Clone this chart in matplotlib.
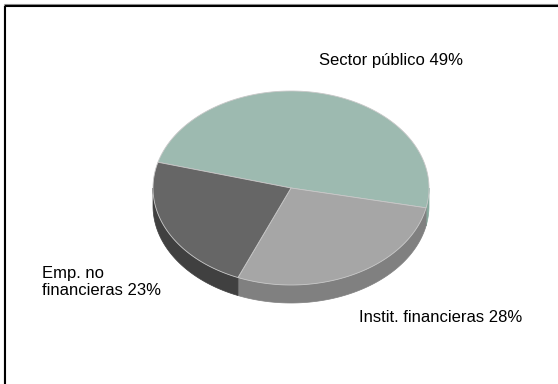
import numpy as np
import matplotlib.pyplot as plt
from matplotlib.patches import Polygon

# participación por sector
sectores = ['Sector público', 'Instit. financieras', 'Emp. no\nfinancieras']
valores = [49, 28, 23]
col_sup = ['#9dbab0', '#a6a6a6', '#666666']
col_lat = ['#86a89c', '#808080', '#404040']

plt.rcParams['font.family'] = ['Liberation Sans', 'DejaVu Sans']

fig = plt.figure(figsize=(5.58, 3.84), dpi=100)
ax = fig.add_axes([0, 0, 1, 1])
ax.set_xlim(0, 558)
ax.set_ylim(384, 0)
ax.axis('off')

# geometría del pastel en pixeles
cx, cy, rx, ry, prof = 291, 188, 138, 97, 18
inicio = 164.6


def arco(a0, a1, dy=0, n=120):
    t = np.radians(np.linspace(a0, a1, n))
    return np.column_stack([cx + rx * np.cos(t), cy - ry * np.sin(t) + dy])


# ángulos de cada porción, en sentido horario
frac = np.array(valores) / sum(valores) * 360
fin = inicio - np.cumsum(frac)
ini = fin + frac

# paredes laterales (sólo la mitad frontal)
for a0, a1, c in zip(ini, fin, col_lat):
    lo, hi = max(a1, -180), min(a0, 0)
    if hi <= lo:
        continue
    sup = arco(hi, lo)
    inf = arco(lo, hi, dy=prof)
    ax.add_patch(Polygon(np.vstack([sup, inf]), closed=True, fc=c, ec=c, lw=0.5))

# caras superiores
for a0, a1, c in zip(ini, fin, col_sup):
    pts = np.vstack([[cx, cy], arco(a0, a1)])
    ax.add_patch(Polygon(pts, closed=True, fc=c, ec='#c8c8c8', lw=0.6))

# etiquetas
fs = 12
etiq = [f'{s} {v}%' for s, v in zip(sectores, valores)]
ax.text(319, 61, etiq[0], fontsize=fs, va='center', ha='left')
ax.text(359, 317, etiq[1], fontsize=fs, va='center', ha='left')
ax.text(42, 282, etiq[2], fontsize=fs, va='center', ha='left', linespacing=1.2)

# marco superior e izquierdo
ax.plot([3.5, 558], [3.5, 3.5], color='#909090', lw=0.8, solid_capstyle='butt')
ax.plot([3.5, 3.5], [3.5, 384], color='#909090', lw=0.8, solid_capstyle='butt')
ax.plot([5, 558], [5.5, 5.5], color='black', lw=1.5, solid_capstyle='butt')
ax.plot([5, 5], [5.5, 384], color='black', lw=1.5, solid_capstyle='butt')

fig.savefig('out.png', dpi=100)
